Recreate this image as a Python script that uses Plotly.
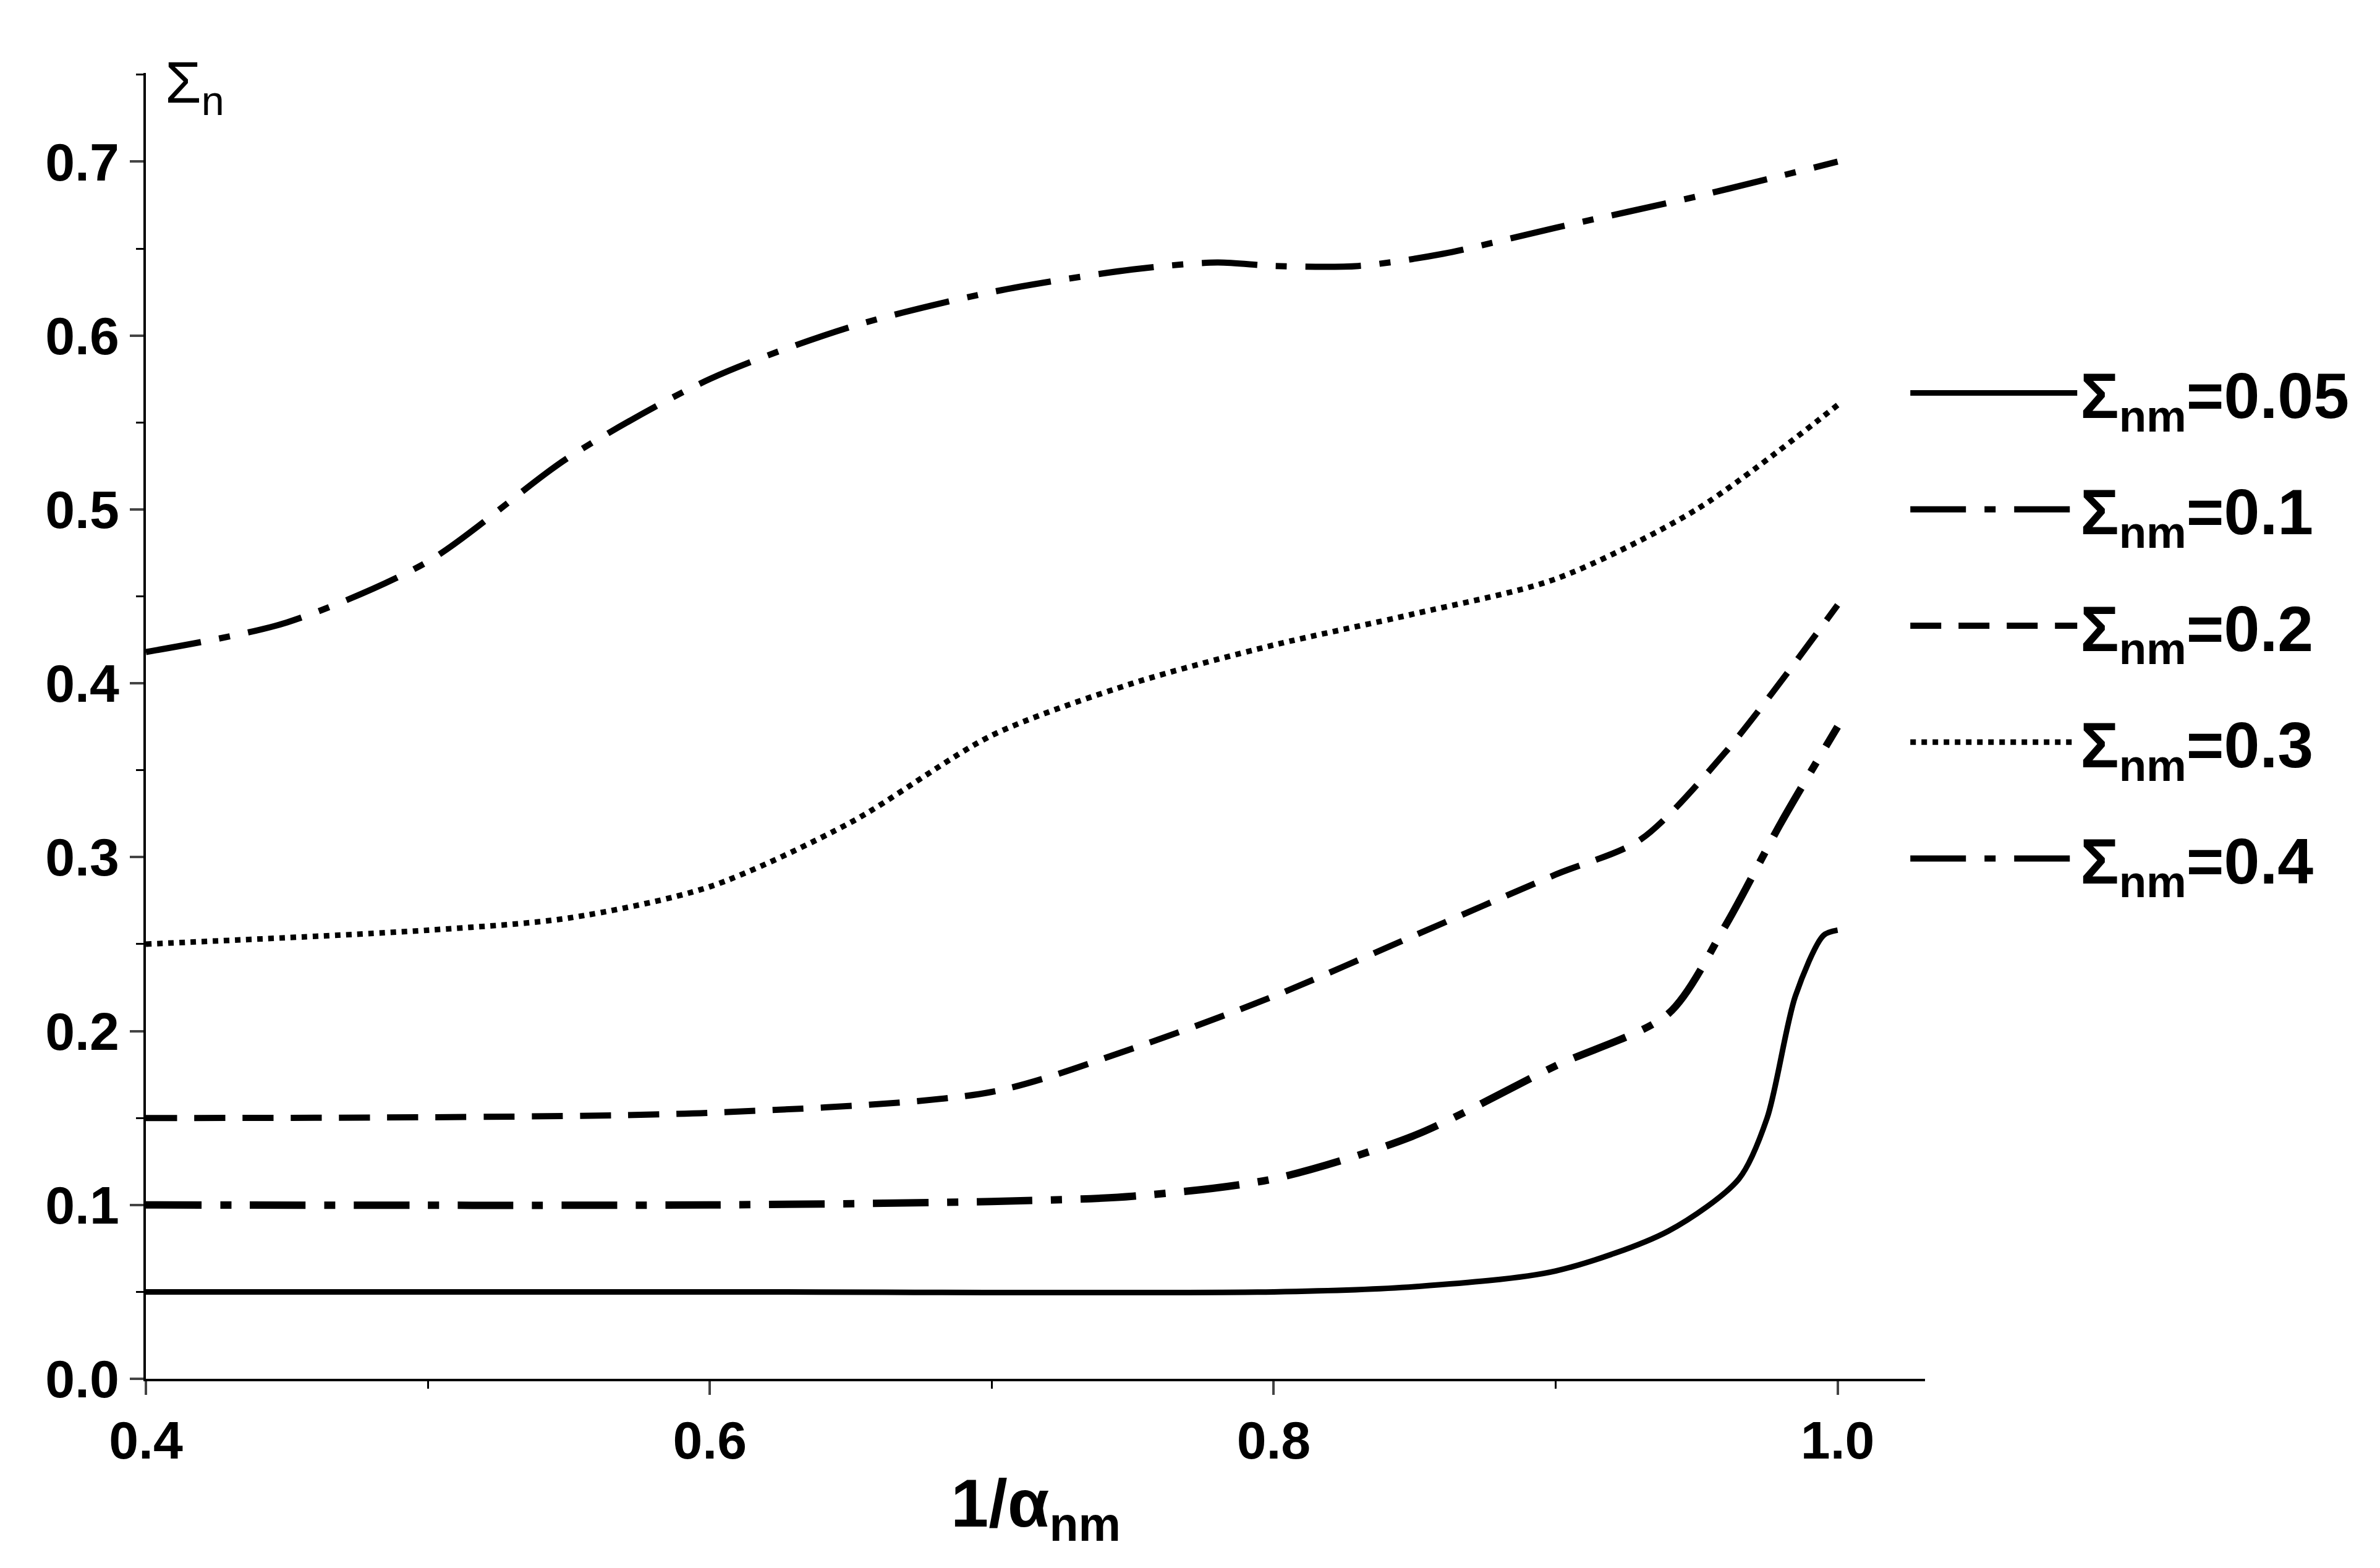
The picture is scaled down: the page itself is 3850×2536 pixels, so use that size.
import plotly.graph_objects as go

x05 = [0.4, 0.6, 0.8, 0.85, 0.9, 0.94, 0.965, 0.975, 0.985, 0.995, 1.0]
y05 = [0.05, 0.05, 0.05, 0.053, 0.062, 0.085, 0.115, 0.15, 0.22, 0.255, 0.258]
x1 = [0.4, 0.6, 0.7, 0.75, 0.8, 0.85, 0.9, 0.94, 0.96, 0.98, 1.0]
y1 = [0.1, 0.1, 0.102, 0.105, 0.115, 0.14, 0.18, 0.21, 0.26, 0.32, 0.375]
x2 = [0.4, 0.6, 0.7, 0.75, 0.8, 0.85, 0.9, 0.93, 0.96, 1.0]
y2 = [0.15, 0.153, 0.165, 0.19, 0.22, 0.255, 0.29, 0.31, 0.36, 0.445]
x3 = [0.4, 0.5, 0.55, 0.6, 0.65, 0.7, 0.75, 0.8, 0.85, 0.9, 0.95, 1.0]
y3 = [0.25, 0.258, 0.265, 0.283, 0.32, 0.37, 0.4, 0.422, 0.44, 0.46, 0.5, 0.56]
x4 = [0.4, 0.45, 0.5, 0.55, 0.6, 0.65, 0.7, 0.75, 0.78, 0.8, 0.83, 0.86, 0.9, 0.95, 1.0]
y4 = [0.418, 0.435, 0.47, 0.53, 0.575, 0.605, 0.625, 0.638, 0.642, 0.64, 0.64, 0.647, 0.662, 0.68, 0.7]
labels = ["0.05", "0.1", "0.2", "0.3", "0.4"]

dashes = ["solid", "90px,30px,18px,30px", "50px,28px", "dot", "90px,30px,18px,30px"]
widths = [9, 12, 10, 9, 10]
series = [(x05, y05), (x1, y1), (x2, y2), (x3, y3), (x4, y4)]

fig = go.Figure()
for i, ((xs, ys), lab, d, w) in enumerate(zip(series, labels, dashes, widths)):
    fig.add_trace(go.Scatter(x=xs, y=ys, mode="lines", legendgroup=f"g{i}",
                             line=dict(color="black", width=w, dash=d, shape="spline", smoothing=0.8),
                             name=f"Σ<sub>nm</sub>={lab}"))

font = "Liberation Sans"
axcommon = dict(showline=True, linecolor="black", linewidth=4, ticks="outside", ticklen=22, tickwidth=4,
                showgrid=False, zeroline=False, mirror=False,
                tickfont=dict(family=font, size=86, color="black", weight="bold"),
                minor=dict(ticks="outside", ticklen=12, tickwidth=3, tickcolor="black"))
fig.update_xaxes(range=[0.4, 1.031], tickvals=[0.4, 0.6, 0.8, 1.0], ticktext=["0.4", "0.6", "0.8", "1.0"],
                 minor_dtick=0.1, **axcommon)
fig.update_yaxes(range=[0, 0.751], dtick=0.1, tickformat=".1f", minor_dtick=0.05, **axcommon)

fig.add_annotation(xref="paper", yref="paper", x=0.5, y=-0.065, yanchor="top", showarrow=False,
                   text="<b>1/α<sub>nm</sub></b>", font=dict(family=font, size=110, color="black"))
fig.add_annotation(xref="paper", yref="paper", x=0.01, y=1.0, xanchor="left", yanchor="top", yshift=40,
                   showarrow=False, text="Σ<sub>n</sub>", font=dict(family=font, size=95, color="black"))

fig.update_layout(width=3850, height=2536, plot_bgcolor="white", paper_bgcolor="white",
                  margin=dict(l=228, r=744, t=110, b=314),
                  legend=dict(x=0.99, y=0.79, xanchor="left", yanchor="top", itemwidth=270,
                              font=dict(family=font, size=104, color="black", weight="bold"),
                              tracegroupgap=50, bgcolor="rgba(0,0,0,0)"))
fig.write_html("out.html")
